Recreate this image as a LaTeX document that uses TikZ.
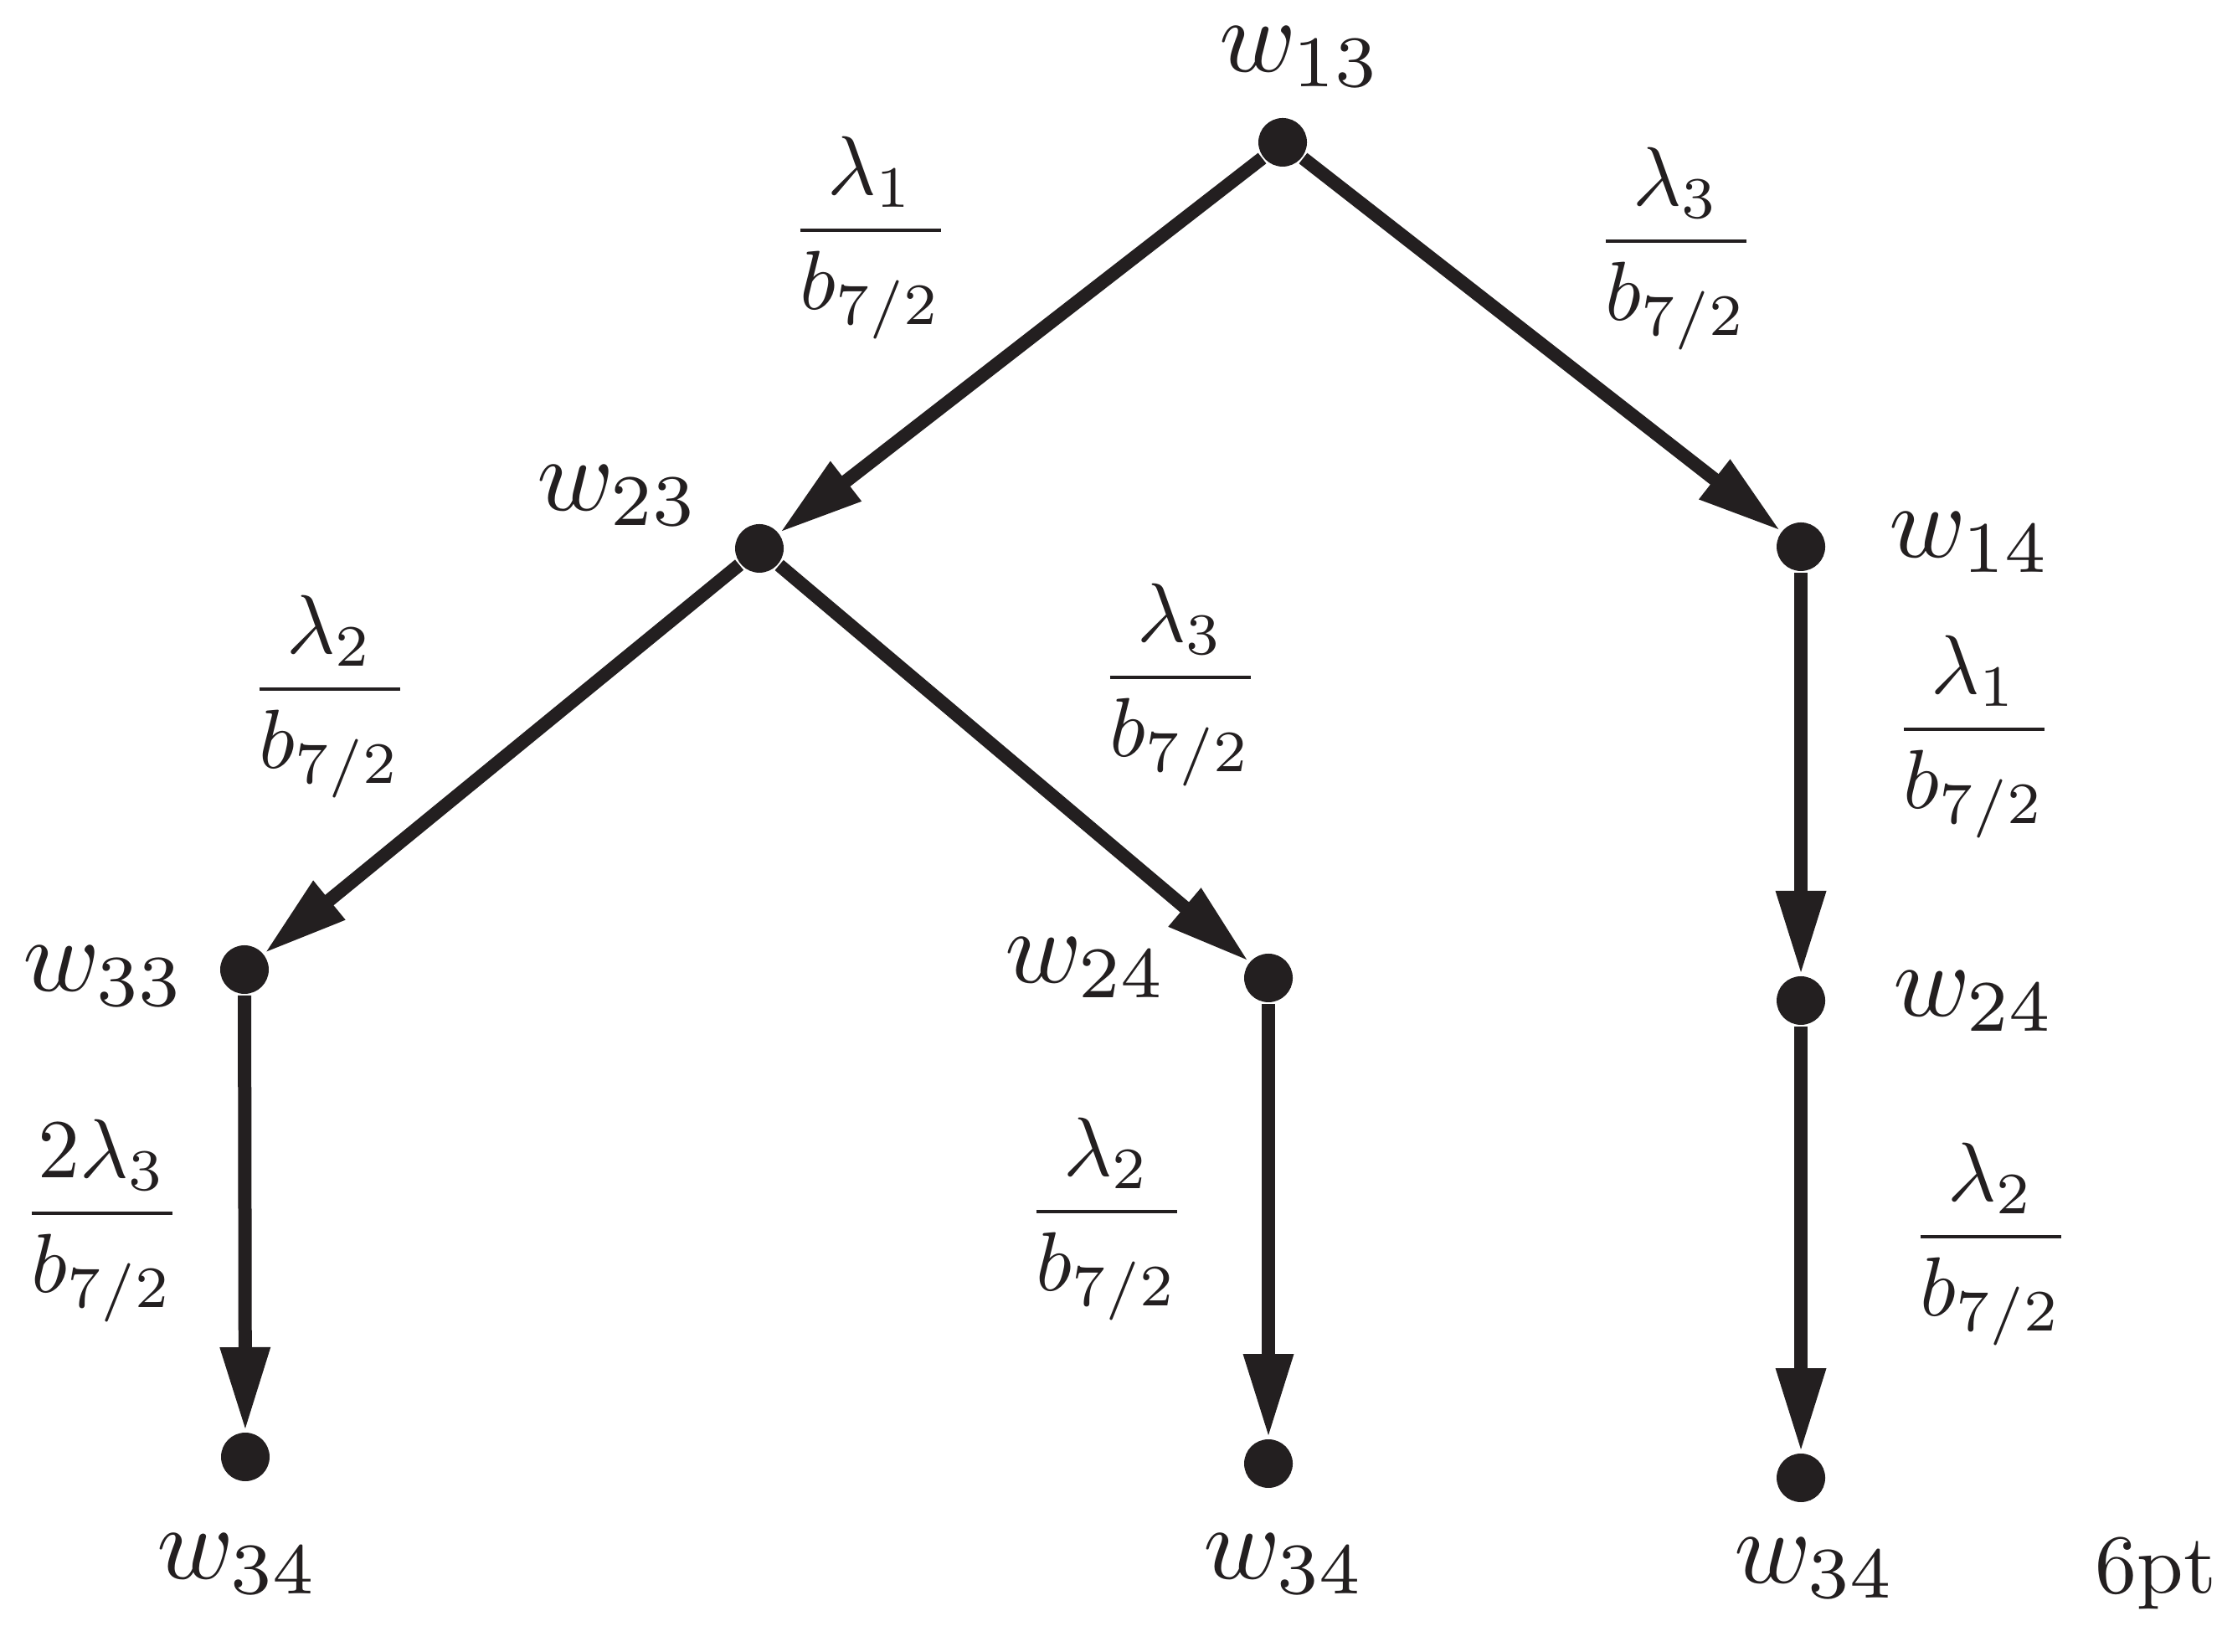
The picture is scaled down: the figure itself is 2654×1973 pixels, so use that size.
\documentclass[tikz,border=0pt]{standalone}
\usepackage{amsmath}
\usetikzlibrary{arrows.meta}
\definecolor{ink}{RGB}{35,31,32}
\begin{document}
\begin{tikzpicture}[x=0.1pt,y=-0.1pt,
  vdot/.style={circle,fill=ink,draw=none,inner sep=0pt,minimum size=5.8pt},
  edge/.style={draw=ink,line width=1.6pt,-{Triangle[width=5.6pt,length=10pt]}},
  lab/.style={inner sep=0pt,text=ink},
  wlab/.style={lab,scale=1.24},
  frac/.style={lab}]
\useasboundingbox (0,0) rectangle (2654,1973);
% vertices
\node[vdot] (a)  at (1532,170)  {};
\node[vdot] (b)  at (907,655)   {};
\node[vdot] (c)  at (2151,653)  {};
\node[vdot] (d)  at (292,1158)  {};
\node[vdot] (e)  at (1515,1168) {};
\node[vdot] (f)  at (2151,1195) {};
\node[vdot] (g)  at (293,1740)  {};
\node[vdot] (h)  at (1515,1748) {};
\node[vdot] (i)  at (2151,1765) {};
% edges
\draw[edge] (a) -- (b);
\draw[edge] (a) -- (c);
\draw[edge] (b) -- (d);
\draw[edge] (b) -- (e);
\draw[edge] (c) -- (f);
\draw[edge] (d) -- (g);
\draw[edge] (e) -- (h);
\draw[edge] (f) -- (i);
% vertex labels
\node[wlab] (la) at (1553,68)   {$w_{13}$};
\node[wlab] (lb) at (738,592)   {$w_{23}$};
\node[wlab] (lc) at (2353,648)  {$w_{14}$};
\node[wlab] (ld) at (124,1166)  {$w_{33}$};
\node[wlab] (le) at (1297,1156) {$w_{24}$};
\node[wlab] (lf) at (2358,1196) {$w_{24}$};
\node[wlab] (lg) at (284,1868)  {$w_{34}$};
\node[wlab] (lh) at (1534,1868) {$w_{34}$};
\node[wlab] (li) at (2168,1873) {$w_{34}$};
% rate labels
\node[frac] (r1) at (1040,284)  {$\dfrac{\lambda_1}{b_{7/2}}$};
\node[frac] (r2) at (2002,297)  {$\dfrac{\lambda_3}{b_{7/2}}$};
\node[frac] (r3) at (394,832)   {$\dfrac{\lambda_2}{b_{7/2}}$};
\node[frac] (r4) at (1410,818)  {$\dfrac{\lambda_3}{b_{7/2}}$};
\node[frac] (r5) at (2358,880)  {$\dfrac{\lambda_1}{b_{7/2}}$};
\node[frac] (r6) at (122,1458)  {$\dfrac{2\lambda_3}{b_{7/2}}$};
\node[frac] (r7) at (1322,1456) {$\dfrac{\lambda_2}{b_{7/2}}$};
\node[frac] (r8) at (2378,1486) {$\dfrac{\lambda_2}{b_{7/2}}$};
\node[lab] (pt) at (2575,1879) {6pt};
\end{tikzpicture}
\end{document}
